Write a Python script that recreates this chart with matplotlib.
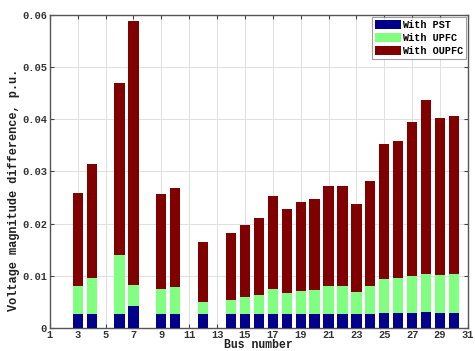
import matplotlib
matplotlib.use("Agg")
import matplotlib.pyplot as plt
import numpy as np

buses = [3, 4, 6, 7, 9, 10, 12, 14, 15, 16, 17, 18, 19, 20, 21, 22, 23, 24, 25, 26, 27, 28, 29, 30]
pst = [0.0026, 0.0026, 0.0026, 0.0041, 0.0026, 0.0026, 0.0026, 0.0026, 0.0026, 0.0026, 0.0026, 0.0026,
       0.0026, 0.0026, 0.0026, 0.0026, 0.0026, 0.0026, 0.0029, 0.0029, 0.0029, 0.0031, 0.0029, 0.0029]
upfc = [0.0080, 0.0095, 0.0140, 0.0082, 0.0074, 0.0079, 0.0049, 0.0054, 0.0058, 0.0063, 0.0074, 0.0066,
        0.0071, 0.0073, 0.0080, 0.0080, 0.0069, 0.0080, 0.0093, 0.0095, 0.0099, 0.0104, 0.0101, 0.0103]
oupfc = [0.0259, 0.0314, 0.0470, 0.0589, 0.0256, 0.0268, 0.0165, 0.0182, 0.0197, 0.0211, 0.0252, 0.0227,
         0.0242, 0.0248, 0.0273, 0.0273, 0.0237, 0.0281, 0.0353, 0.0358, 0.0395, 0.0437, 0.0402, 0.0407]
labels = ["With PST", "With UPFC", "With OUPFC"]

mono = ["Liberation Mono", "DejaVu Sans Mono"]

fig = plt.figure(figsize=(4.75, 3.51), dpi=100)
ax = fig.add_axes([0.105, 0.0665, 0.88, 0.89])

w = 0.74
ax.bar(buses, oupfc, width=w, color="#800000", zorder=2, label=labels[2])
ax.bar(buses, upfc, width=w, color="#80FF80", zorder=3, label=labels[1])
ax.bar(buses, pst, width=w, color="#00008B", zorder=4, label=labels[0])

ax.set_xlim(1, 31)
ax.set_ylim(0, 0.06)
ax.set_xticks(np.arange(1, 32, 2))
ax.set_yticks([0, 0.01, 0.02, 0.03, 0.04, 0.05, 0.06])
ax.set_yticklabels(["0", "0.01", "0.02", "0.03", "0.04", "0.05", "0.06"])
ax.grid(True, color="#e0e0e0", linewidth=0.7, zorder=0)
ax.set_axisbelow(True)
ax.tick_params(direction="in", top=True, right=True, length=3, width=0.8, color="#444444", pad=2)
for lab in ax.get_xticklabels() + ax.get_yticklabels():
    lab.set_fontfamily(mono)
    lab.set_fontsize(7.5)
    lab.set_fontweight("bold")
    lab.set_color("#333333")
for s in ax.spines.values():
    s.set_color("#555555")
    s.set_linewidth(1.0)

ax.set_xlabel("Bus number", fontfamily=mono, fontsize=8.3, fontweight="bold", labelpad=-1, color="#222222")
ax.set_ylabel("Voltage magnitude difference, p.u.", fontfamily=mono, fontsize=8.6, fontweight="bold",
              color="#222222")
ax.yaxis.set_label_coords(-0.072, 0.44)

h, l = ax.get_legend_handles_labels()
leg = ax.legend(h[::-1], l[::-1], loc="upper right", prop={"family": mono, "size": 7.3, "weight": "bold"},
                frameon=True, fancybox=False, edgecolor="#888888", borderpad=0.3, handlelength=2.5,
                handleheight=1.0, labelspacing=0.3, borderaxespad=0.15, handletextpad=0.15)
leg.get_frame().set_linewidth(0.8)

fig.savefig("out.png", dpi=100)
